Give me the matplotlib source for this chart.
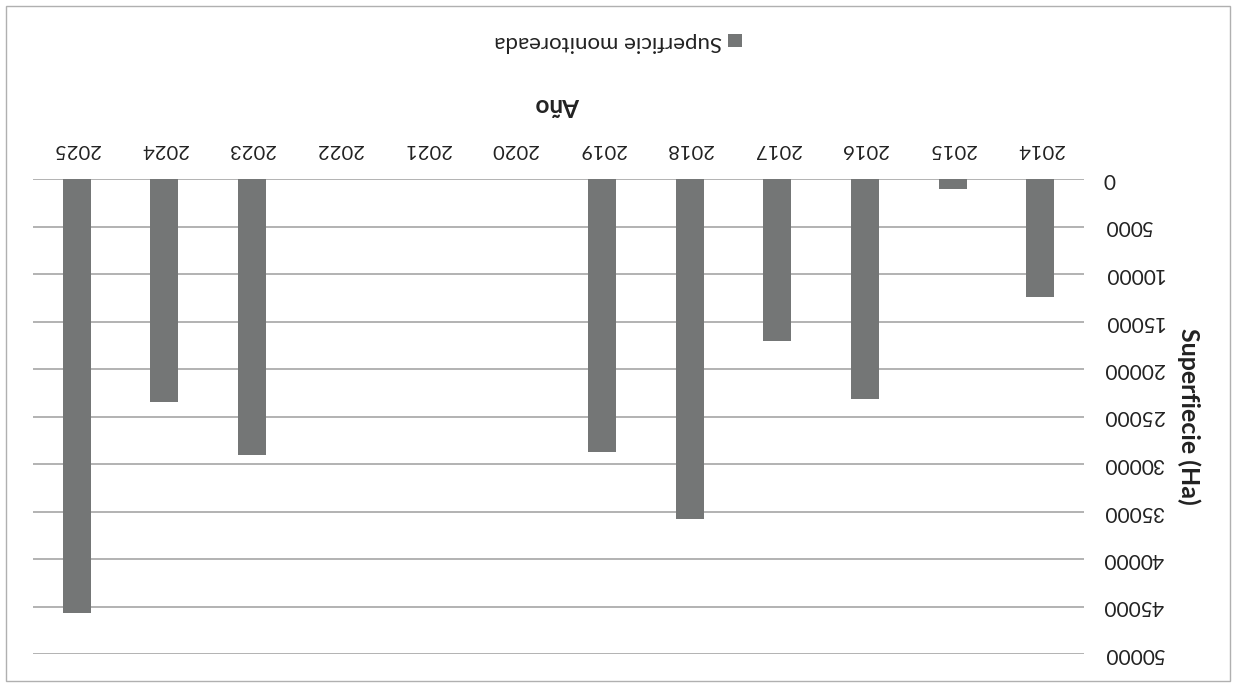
import matplotlib
matplotlib.use("Agg")
import matplotlib.pyplot as plt
from matplotlib.patches import Rectangle

# Monitored surface per year (hectares)
years = ["2014", "2015", "2016", "2017", "2018", "2019",
         "2020", "2021", "2022", "2023", "2024", "2025"]
superficie = [12400, 1100, 23200, 17100, 35800, 28700,
              0, 0, 0, 29000, 23500, 45700]
y_ticks = [0, 5000, 10000, 15000, 20000, 25000, 30000, 35000, 40000, 45000, 50000]
series_label = "Superficie monitoreada"
x_title = "Año"
y_title = "Superfiecie (Ha)"

plt.rcParams["font.family"] = ["Lato", "DejaVu Sans"]

fig = plt.figure(figsize=(12.42, 6.87), dpi=100)
ax = fig.add_axes([33 / 1242, 1 - 654 / 687, (1084 - 33) / 1242, (654 - 179) / 687])

bar_color = "#747676"
grid_color = "#a6a6a6"
text_color = "#222222"

pos = list(range(len(years)))
ax.bar(pos, superficie, width=0.32, color=bar_color, zorder=3)

# The whole chart is shown turned upside down
ax.set_xlim(len(years) - 0.5, -0.5)
ax.set_ylim(50000, 0)

ax.set_yticks(y_ticks)
ax.set_yticklabels([str(v) for v in y_ticks], rotation=180, fontsize=15,
                   color=text_color, va="center")
ax.yaxis.tick_right()
ax.tick_params(axis="y", length=0, pad=14)

ax.set_xticks(pos)
ax.set_xticklabels(years, rotation=180, fontsize=14.5, color=text_color)
ax.xaxis.tick_top()
ax.tick_params(axis="x", length=0, pad=15)

ax.grid(axis="y", color=grid_color, linewidth=1.2, zorder=0)
ax.grid(axis="x", visible=False)
for s in ax.spines.values():
    s.set_visible(False)

ax.yaxis.set_label_position("right")
ax.set_ylabel(y_title, rotation=270, fontsize=18, fontweight="bold", color=text_color)
ax.yaxis.set_label_coords(1.111, 0.5)

ax.xaxis.set_label_position("top")
ax.set_xlabel(x_title, rotation=180, fontsize=17.5, fontweight="bold", color=text_color)
ax.xaxis.set_label_coords(0.499, 1.14)

# Legend entry (square marker and label), turned as the rest of the chart
fig.text(722 / 1242, 1 - 42 / 687, series_label, rotation=180, ha="right", va="center",
         fontsize=16, color=text_color)
fig.patches.append(Rectangle((728 / 1242, 1 - 47 / 687), 14 / 1242, 13 / 687,
                             transform=fig.transFigure, facecolor=bar_color,
                             edgecolor="none"))

# Chart frame
fig.patches.append(Rectangle((6 / 1242, 1 - 681 / 687), 1224 / 1242, 675 / 687,
                             transform=fig.transFigure, facecolor="none",
                             edgecolor="#b0b0b0", linewidth=1.0))

fig.savefig("out.png", dpi=100, facecolor="white")
